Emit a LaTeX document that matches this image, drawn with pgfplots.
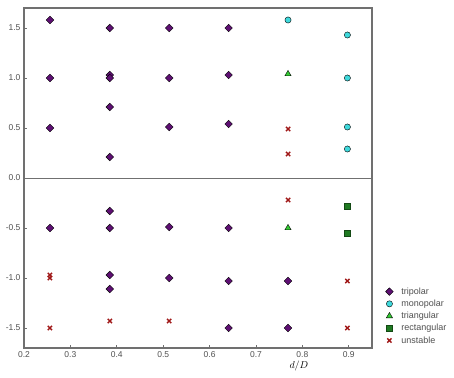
\documentclass[border=0pt]{standalone}
\usepackage{pgfplots}
\pgfplotsset{compat=1.18}
\usepackage{fontspec}
\setmainfont{Liberation Sans}
\definecolor{tri}{HTML}{5E0F73}
\definecolor{mono}{HTML}{3FD9DC}
\definecolor{trig}{HTML}{33CC33}
\definecolor{rect}{HTML}{1F7A22}
\definecolor{unst}{HTML}{A01818}
\definecolor{axg}{HTML}{707070}
\definecolor{tickg}{HTML}{505050}
\begin{document}
\begin{tikzpicture}
\path[use as bounding box] (-24pt,-29pt) rectangle (430pt,348pt);
\begin{axis}[
  scale only axis, width=348pt, height=340pt,
  xmin=0.2, xmax=0.95, ymin=-1.7, ymax=1.7,
  xtick={0.2,0.3,...,0.9}, ytick={-1.5,-1.0,...,1.5},
  tick align=inside, xtick pos=bottom, ytick pos=left,
  major tick length=3pt,
  axis line style={axg, line width=1.2pt},
  every tick/.style={axg, line width=0.8pt},
  tick label style={font=\fontsize{8.5}{10}\selectfont, text=tickg},
  /pgf/number format/.cd, fixed, fixed zerofill, precision=1, assume math mode=true,
  /pgfplots/.cd,
  xlabel={$d/D$},
  xlabel style={at={(axis description cs:0.79,0)}, anchor=north, yshift=-9pt, font=\fontsize{10}{12}\selectfont},
  ylabel={$h/D$},
  ylabel style={at={(axis description cs:-0.085,0.5)}, anchor=south, rotate=0, font=\fontsize{10}{12}\selectfont},
  legend style={draw=none, fill=none, at={(axis description cs:1.03,0.19)}, anchor=north west,
    font=\fontsize{9}{10.5}\selectfont, text=tickg, row sep=0.2pt},
  legend cell align=left,
  clip=false,
]
\draw[axg, line width=0.8pt] (axis cs:0.2,0) -- (axis cs:0.95,0);
\addplot[only marks, mark=square*, mark size=2.7pt, mark options={rotate=45, fill=tri, draw=black, line width=0.4pt}] coordinates {
 (0.256,1.58) (0.256,1.0) (0.256,0.5) (0.256,-0.5)
 (0.385,1.5) (0.385,1.03) (0.385,1.0) (0.385,0.71) (0.385,0.21) (0.385,-0.33) (0.385,-0.5) (0.385,-0.97) (0.385,-1.11)
 (0.513,1.5) (0.513,1.0) (0.513,0.51) (0.513,-0.49) (0.513,-1.0)
 (0.641,1.5) (0.641,1.03) (0.641,0.54) (0.641,-0.5) (0.641,-1.03) (0.641,-1.5)
 (0.769,-1.03) (0.769,-1.5)
};
\addlegendentry{\hspace{6pt}tripolar}
\addplot[only marks, mark=*, mark size=3.1pt, mark options={fill=mono, draw=black, line width=0.4pt}] coordinates {
 (0.769,1.58) (0.897,1.43) (0.897,1.0) (0.897,0.51) (0.897,0.29)
};
\addlegendentry{\hspace{6pt}monopolar}
\addplot[only marks, mark=triangle*, mark size=3.6pt, mark options={fill=trig, draw=black, line width=0.4pt}] coordinates {
 (0.769,1.04) (0.769,-0.5)
};
\addlegendentry{\hspace{6pt}triangular}
\addplot[only marks, mark=square*, mark size=2.9pt, mark options={fill=rect, draw=rect!60!black, line width=0.4pt}] coordinates {
 (0.897,-0.28) (0.897,-0.55)
};
\addlegendentry{\hspace{6pt}rectangular}
\addplot[only marks, mark=x, mark size=3pt, mark options={draw=unst, line width=1.4pt}] coordinates {
 (0.769,0.49) (0.769,0.24) (0.769,-0.22)
 (0.897,-1.03) (0.897,-1.5)
 (0.256,-0.97) (0.256,-1.0) (0.256,-1.5)
 (0.385,-1.43) (0.513,-1.43)
};
\addlegendentry{\hspace{6pt}unstable}
\end{axis}
\end{tikzpicture}
\end{document}
